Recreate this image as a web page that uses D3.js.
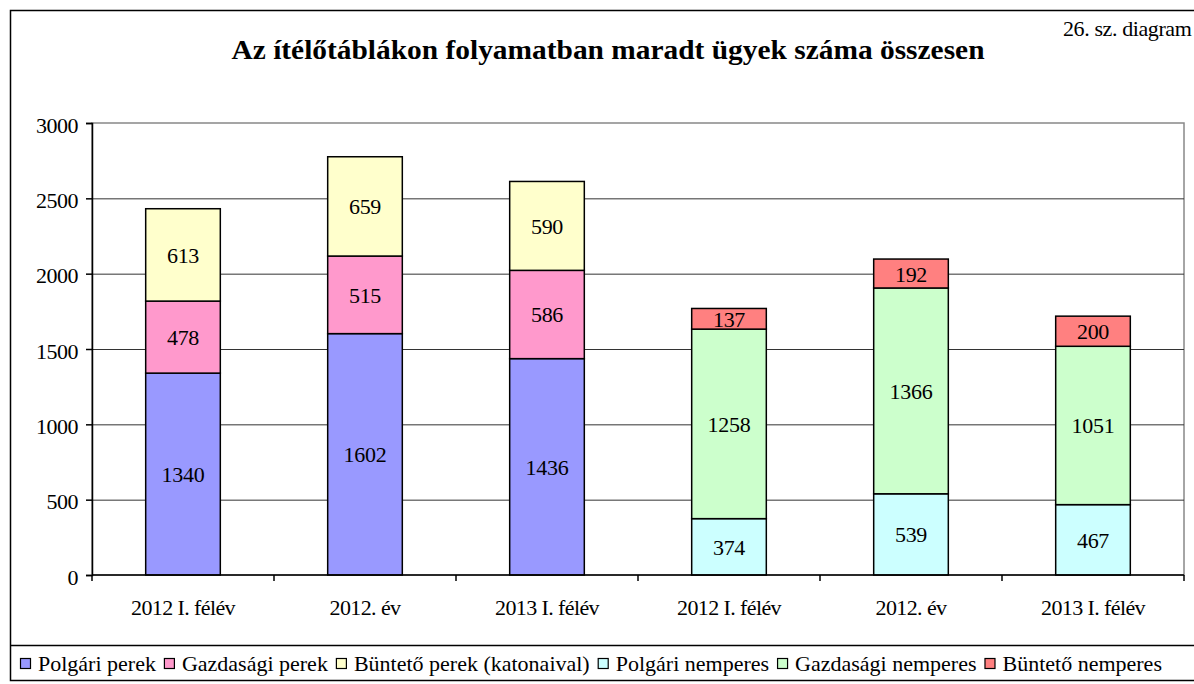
<!DOCTYPE html>
<html>
<head>
<meta charset="utf-8">
<script src="https://cdn.jsdelivr.net/npm/d3@7"></script>
<style>
  body { margin: 0; background: #fff; }
  svg { display: block; font-family: "Liberation Serif", "Times New Roman", serif; }
</style>
</head>
<body>
<div id="chart"></div>
<script>
(function() {
    'use strict';

    // Data
    var categories = ['2012 I. félév', '2012. év', '2013 I. félév', '2012 I. félév', '2012. év', '2013 I. félév'];
    var seriesNames = ['Polgári perek', 'Gazdasági perek', 'Büntető perek (katonaival)',
                       'Polgári nemperes', 'Gazdasági nemperes', 'Büntető nemperes'];
    var seriesColors = ['#9999ff', '#ff99cc', '#ffffcc', '#ccffff', '#ccffcc', '#ff8080'];
    var polgariPerek     = [1340, 1602, 1436, 0, 0, 0];
    var gazdasagiPerek   = [478, 515, 586, 0, 0, 0];
    var buntetoPerek     = [613, 659, 590, 0, 0, 0];
    var polgariNemperes  = [0, 0, 0, 374, 539, 467];
    var gazdasagiNemperes = [0, 0, 0, 1258, 1366, 1051];
    var buntetoNemperes  = [0, 0, 0, 137, 192, 200];
    var yTicks = [0, 500, 1000, 1500, 2000, 2500, 3000];

    var series = [polgariPerek, gazdasagiPerek, buntetoPerek, polgariNemperes, gazdasagiNemperes, buntetoNemperes];

    var width = 1194, height = 684;
    var plot = { left: 92, right: 1184, top: 123, bottom: 575 };

    var svg = d3.select('#chart').append('svg')
        .attr('width', width)
        .attr('height', height);

    // outer frame
    svg.append('rect')
        .attr('x', 10.5).attr('y', 10.5)
        .attr('width', width + 10).attr('height', 670)
        .attr('fill', 'none').attr('stroke', '#000').attr('stroke-width', 1.5);

    // title
    svg.append('text')
        .attr('x', 608).attr('y', 59)
        .attr('text-anchor', 'middle')
        .attr('font-size', 28).attr('font-weight', 'bold')
        .attr('textLength', 753).attr('lengthAdjust', 'spacingAndGlyphs')
        .text('Az ítélőtáblákon folyamatban maradt ügyek száma összesen');

    svg.append('text')
        .attr('x', 1063).attr('y', 36)
        .attr('font-size', 22).attr('letter-spacing', -0.4)
        .text('26. sz. diagram');

    var x = d3.scaleBand()
        .domain(d3.range(categories.length))
        .range([plot.left, plot.right])
        .paddingInner(0).paddingOuter(0);

    var y = d3.scaleLinear()
        .domain([0, 3000])
        .range([plot.bottom, plot.top]);

    // plot area border
    svg.append('rect')
        .attr('x', plot.left).attr('y', plot.top)
        .attr('width', plot.right - plot.left).attr('height', plot.bottom - plot.top)
        .attr('fill', '#fff').attr('stroke', '#888').attr('stroke-width', 1.5);

    // gridlines
    svg.append('g')
        .selectAll('line')
        .data(yTicks.filter(function(t) { return t > 0 && t < 3000; }))
        .join('line')
        .attr('x1', plot.left).attr('x2', plot.right)
        .attr('y1', function(d) { return y(d) + 0.5; })
        .attr('y2', function(d) { return y(d) + 0.5; })
        .attr('stroke', '#333').attr('stroke-width', 1);

    // stacked bars
    var stackData = categories.map(function(c, i) {
        var row = { i: i };
        series.forEach(function(s, k) { row[k] = s[i]; });
        return row;
    });
    var stack = d3.stack().keys(d3.range(series.length))(stackData);

    var barW = x.bandwidth() * 0.41;

    var layers = svg.append('g')
        .selectAll('g')
        .data(stack)
        .join('g')
        .attr('fill', function(d) { return seriesColors[d.key]; });

    layers.selectAll('rect')
        .data(function(d) { return d.filter(function(p) { return p[1] - p[0] > 0; }); })
        .join('rect')
        .attr('x', function(d) { return x(d.data.i) + (x.bandwidth() - barW) / 2; })
        .attr('y', function(d) { return y(d[1]); })
        .attr('width', barW)
        .attr('height', function(d) { return y(d[0]) - y(d[1]); })
        .attr('stroke', '#000').attr('stroke-width', 1.5);

    layers.selectAll('text')
        .data(function(d) { return d.filter(function(p) { return p[1] - p[0] > 0; }); })
        .join('text')
        .attr('x', function(d) { return x(d.data.i) + x.bandwidth() / 2; })
        .attr('y', function(d) { return (y(d[0]) + y(d[1])) / 2 + 8; })
        .attr('text-anchor', 'middle')
        .attr('fill', '#000')
        .attr('font-size', 22).attr('letter-spacing', -0.3)
        .text(function(d) { return d[1] - d[0]; });

    // y axis
    var yAxis = svg.append('g')
        .attr('transform', 'translate(' + plot.left + ',0)')
        .call(d3.axisLeft(y).tickValues(yTicks).tickSize(6).tickPadding(8).tickFormat(d3.format('d')));
    yAxis.select('.domain').attr('stroke', '#000').attr('stroke-width', 1.5);
    yAxis.selectAll('.tick line').attr('stroke', '#000').attr('stroke-width', 1.5);
    yAxis.selectAll('.tick text')
        .attr('font-family', '"Liberation Serif", serif')
        .attr('font-size', 22).attr('letter-spacing', -0.5)
        .attr('fill', '#000').attr('dy', '0.42em');

    // x axis
    var xAxis = svg.append('g')
        .attr('transform', 'translate(0,' + plot.bottom + ')');
    xAxis.append('line')
        .attr('x1', plot.left).attr('x2', plot.right)
        .attr('stroke', '#000').attr('stroke-width', 1.5);
    xAxis.selectAll('line.tk')
        .data(d3.range(categories.length + 1))
        .join('line')
        .attr('class', 'tk')
        .attr('x1', function(d) { return plot.left + d * x.step(); })
        .attr('x2', function(d) { return plot.left + d * x.step(); })
        .attr('y1', 0).attr('y2', 6)
        .attr('stroke', '#000').attr('stroke-width', 1.5);
    xAxis.selectAll('text')
        .data(categories)
        .join('text')
        .attr('x', function(d, i) { return x(i) + x.bandwidth() / 2; })
        .attr('y', 40)
        .attr('text-anchor', 'middle')
        .attr('font-size', 22).attr('letter-spacing', -0.6)
        .text(function(d) { return d; });

    // legend
    svg.append('line')
        .attr('x1', 10).attr('x2', width)
        .attr('y1', 645.5).attr('y2', 645.5)
        .attr('stroke', '#000').attr('stroke-width', 1.5);

    var legend = svg.append('g');
    var lx = 20;
    seriesNames.forEach(function(name, k) {
        var g = legend.append('g').attr('transform', 'translate(' + lx + ',0)');
        g.append('rect')
            .attr('x', 0.5).attr('y', 658.5)
            .attr('width', 10).attr('height', 10)
            .attr('fill', seriesColors[k]).attr('stroke', '#000').attr('stroke-width', 1.2);
        var t = g.append('text')
            .attr('x', 18).attr('y', 671)
            .attr('font-size', 22).attr('letter-spacing', 0)
            .text(name);
        lx += 18 + t.node().getComputedTextLength() + 8;
    });
})();
</script>
</body>
</html>
